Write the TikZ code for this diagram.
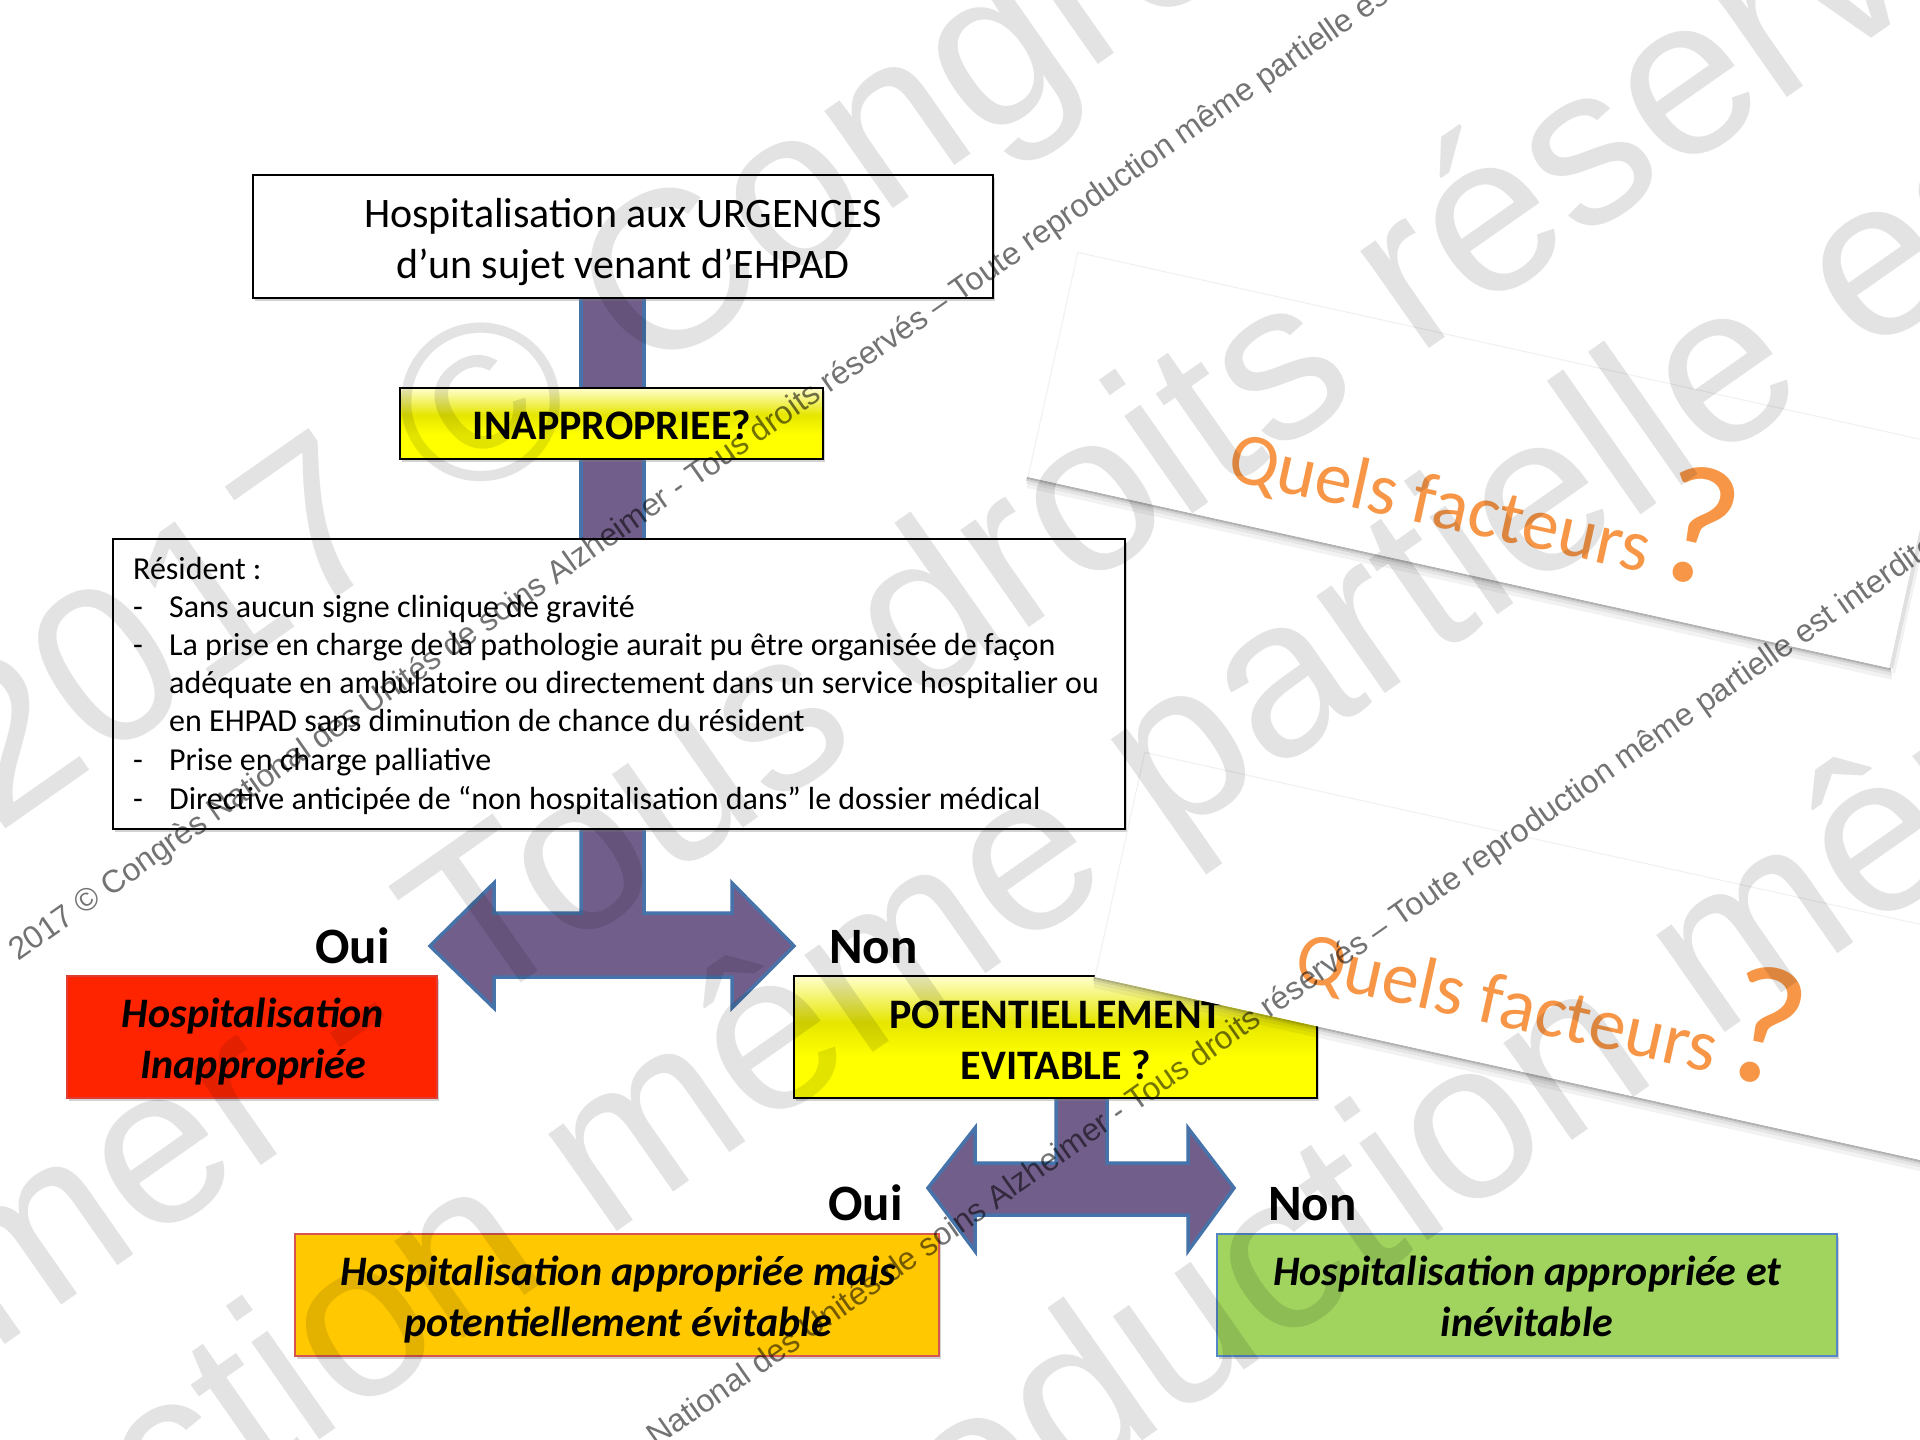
\documentclass[tikz,border=0pt]{standalone}
\usepackage{fontspec}
\setmainfont{Carlito}
\newfontfamily\wmfont{Liberation Sans}
\usetikzlibrary{shadows}

\definecolor{arrfill}{RGB}{114,94,139}
\definecolor{arrline}{RGB}{70,115,170}
\definecolor{redfill}{RGB}{255,36,0}
\definecolor{redline}{RGB}{225,60,50}
\definecolor{orfill}{RGB}{255,200,0}
\definecolor{orline}{RGB}{215,85,80}
\definecolor{grfill}{RGB}{160,212,95}
\definecolor{grline}{RGB}{85,135,200}
\definecolor{qorange}{RGB}{247,150,70}
\definecolor{ytop}{RGB}{255,255,205}
\definecolor{ymid}{RGB}{230,230,0}
\definecolor{ybot}{RGB}{255,255,0}
\pgfdeclareverticalshading{yshade}{100bp}{color(0bp)=(ybot); color(25bp)=(ybot); color(42bp)=(ybot); color(56bp)=(ymid); color(75bp)=(ytop); color(100bp)=(ytop)}

\newcommand\wmstr{2017 © Congrès National des Unités de soins Alzheimer - Tous droits réservés – Toute reproduction même partielle est interdite}

\begin{document}
\begin{tikzpicture}[x=1pt,y=-1pt,
  shd/.style={drop shadow={shadow xshift=2pt,shadow yshift=-3pt,opacity=0.35}},
  box/.style={draw=black, line width=2.5pt, fill=white, inner sep=0pt, shd},
  ybox/.style={draw=black, line width=2.5pt, shading=yshade, inner sep=0pt, shd},
  cbox/.style={line width=2pt, inner sep=0pt, shd},
  t42/.style={font=\fontsize{42}{50}\selectfont, inner sep=0pt, anchor=base},
  b42/.style={font=\fontsize{42}{50}\selectfont\bfseries, inner sep=0pt, anchor=base},
  bi42/.style={font=\fontsize{42}{50}\selectfont\bfseries\itshape, inner sep=0pt, anchor=base},
  t32/.style={font=\fontsize{32}{38}\selectfont, inner sep=0pt, anchor=base west},
  b51/.style={font=\fontsize{51}{60}\selectfont\bfseries, inner sep=0pt},
  arrowshape/.style={fill=arrfill},
  arrowedge/.style={draw=arrline, line width=3.5pt, line join=miter},
  qtxt/.style={font=\fontsize{74}{80}\selectfont, text=qorange, inner sep=0pt, anchor=base west, rotate=-12.5},
  bigwm/.style={font=\wmfont\fontsize{225}{225}\selectfont, text=black, text opacity=0.11, inner sep=0pt, anchor=base west, rotate=35},
  smallwm/.style={font=\wmfont\fontsize{32}{32}\selectfont, text=black, text opacity=0.55, inner sep=0pt, anchor=base west, rotate=35}
]
\useasboundingbox (0,0) rectangle (1920,1440);
\clip (0,0) rectangle (1920,1440);
\fill[white] (0,0) rectangle (1920,1440);

% ---------- connectors (purple arrows) ----------
\fill[arrowshape] (581,290) rectangle (644,545);
\draw[arrowedge] (581,290) -- (581,545) (644,290) -- (644,545);

\fill[arrowshape] (581,820) -- (581,913) -- (494,913) -- (494,883) -- (430,946) -- (494,1008) -- (494,977)
  -- (732,977) -- (732,1008) -- (794,946) -- (732,883) -- (732,913) -- (644,913) -- (644,820) -- cycle;
\draw[arrowedge] (581,820) -- (581,913) -- (494,913) -- (494,883) -- (430,946) -- (494,1008) -- (494,977)
  -- (732,977) -- (732,1008) -- (794,946) -- (732,883) -- (732,913) -- (644,913) -- (644,820);

\fill[arrowshape] (1056,1090) -- (1056,1163) -- (975,1163) -- (975,1128) -- (928,1188) -- (975,1251) -- (975,1215)
  -- (1188,1215) -- (1188,1251) -- (1234,1188) -- (1188,1128) -- (1188,1163) -- (1107,1163) -- (1107,1090) -- cycle;
\draw[arrowedge] (1056,1090) -- (1056,1163) -- (975,1163) -- (975,1128) -- (928,1188) -- (975,1251) -- (975,1215)
  -- (1188,1215) -- (1188,1251) -- (1234,1188) -- (1188,1128) -- (1188,1163) -- (1107,1163) -- (1107,1090);

% ---------- boxes ----------
\node[box, minimum width=740pt, minimum height=123pt] (top) at (623,236.5) {};
\node[t42] (top1) at (623,227) {Hospitalisation aux URGENCES};
\node[t42] (top2) at (623,278) {d’un sujet venant d’EHPAD};

\node[ybox, minimum width=423pt, minimum height=71pt] (inap) at (611.5,423.5) {};
\node[b42] (inapt) at (612,439) {INAPPROPRIEE?};

\node[box, line width=2pt, minimum width=1012pt, minimum height=290pt] (res) at (619,684) {};
\node[t32] (r0) at (133,579) {Résident :};
\node[t32] (d1) at (133,617) {-};
\node[t32] (r1) at (169,617) {Sans aucun signe clinique de gravité};
\node[t32] (d2) at (133,655) {-};
\node[t32] (r2) at (169,655) {La prise en charge de la pathologie aurait pu être organisée de façon};
\node[t32] (r3) at (169,693) {adéquate en ambulatoire ou directement dans un service hospitalier ou};
\node[t32] (r4) at (169,731) {en EHPAD sans diminution de chance du résident};
\node[t32] (d3) at (133,770) {-};
\node[t32] (r5) at (169,770) {Prise en charge palliative};
\node[t32] (d4) at (133,809) {-};
\node[t32] (r6) at (169,809) {Directive anticipée de “non hospitalisation dans” le dossier médical};

\node[b51, anchor=base east] (oui1) at (390,963) {Oui};
\node[b51, anchor=base west] (non1) at (829,963) {Non};

\node[cbox, draw=redline, fill=redfill, minimum width=370pt, minimum height=122pt] (inappro) at (252,1037) {};
\node[bi42] (inappro1) at (253,1027) {Hospitalisation};
\node[bi42] (inappro2) at (253,1078) {Inappropriée};

\node[ybox, minimum width=523pt, minimum height=122pt] (pot) at (1055.5,1037) {};
\node[b42] (pot1) at (1056,1028) {POTENTIELLEMENT};
\node[b42] (pot2) at (1056,1079) {EVITABLE ?};

\node[b51, anchor=base east] (oui2) at (903,1220) {Oui};
\node[b51, anchor=base west] (non2) at (1268,1220) {Non};

\node[cbox, draw=orline, fill=orfill, minimum width=644pt, minimum height=122pt] (evit) at (617,1295) {};
\node[bi42] (evit1) at (618,1285) {Hospitalisation appropriée mais};
\node[bi42] (evit2) at (618,1336) {potentiellement évitable};

\node[cbox, draw=grline, fill=grfill, minimum width=620pt, minimum height=122pt] (inev) at (1527,1295) {};
\node[bi42] (inev1) at (1527,1285) {Hospitalisation appropriée et};
\node[bi42] (inev2) at (1527,1336) {inévitable};

% ---------- tilted cards ----------
\foreach \cx/\cy/\nm in {1028/477/q1, 1095/977/q2}{
  \begin{scope}[shift={(\cx,\cy)}, rotate=-12.5]
    \fill[black, opacity=0.30] (-1,0) rectangle (884,2);
    \fill[black, opacity=0.18] (-1,2) rectangle (885,4);
    \fill[black, opacity=0.10] (0,4) rectangle (886,7);
    \fill[black, opacity=0.05] (1,7) rectangle (887,11);
    \fill[black, opacity=0.12] (882,-228) rectangle (886,0);
    \fill[black, opacity=0.05] (886,-226) rectangle (889,4);
    \fill[white] (0,0) rectangle (882,-230);
    \draw[black!6, line width=1pt] (0,0) -- (0,-230) -- (882,-230);
    \node[qtxt] (\nm) at (193,-40) {Quels facteurs\hspace{3pt}{\fontsize{170}{170}\selectfont ?}};
  \end{scope}
}

% ---------- watermarks ----------
\node[bigwm] (wA) at (645,382) {\llap{2017 © }Congrès National des Unités de soins Alzheimer - Tous droits réservés – Toute reproduction même partielle est interdite};
\node[bigwm] (wB) at (915,708) {\llap{2017 © Congrès National des Unités de soins Alzheimer - Tous }droits réservés – Toute reproduction même partielle est interdite};
\node[bigwm] (wC) at (1169,845) {\llap{2017 © Congrès National des Unités de soins Alzheimer - Tous droits réservés – Toute reproduction même }partielle est interdite};
\node[bigwm] (wD) at (1714,1041) {\llap{2017 © Congrès National des Unités de soins Alzheimer - Tous droits réservés – Toute reproduction }même partielle est interdite};

\node[smallwm] (s1) at (18,962) {\wmstr};
\node[smallwm] (s2) at (458,1587) {\wmstr};
\end{tikzpicture}
\end{document}
